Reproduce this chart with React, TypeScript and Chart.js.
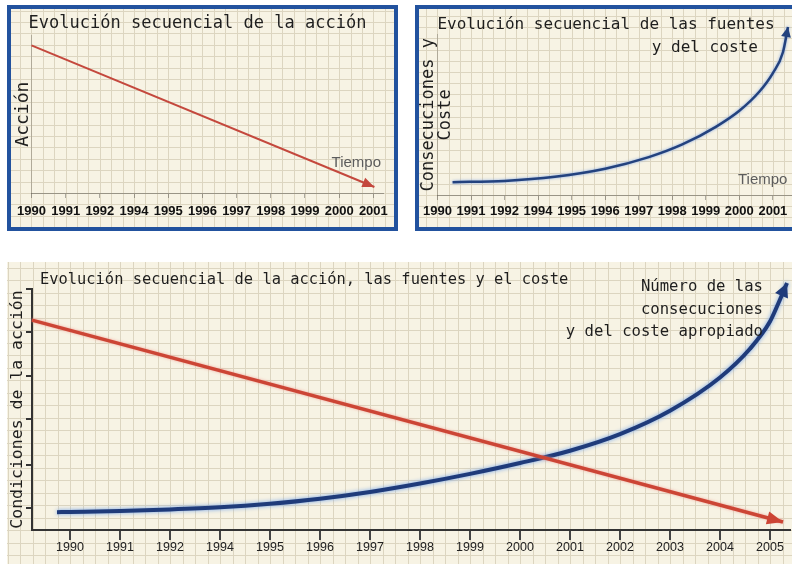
import React, { useEffect, useRef } from "react";
import { Chart, registerables } from "chart.js";

Chart.register(...registerables);

const MONO = '"DejaVu Sans Mono", monospace';
const SANS = '"Liberation Sans", Arial, sans-serif';

// ---------------- data ----------------
const yearLabelsTop = ["1990", "1991", "1992", "1994", "1995", "1996", "1997", "1998", "1999", "2000", "2001"];
const yearLabelsBottom = ["1990", "1991", "1992", "1994", "1995", "1996", "1997", "1998", "1999", "2000", "2001", "2002", "2003", "2004", "2005"];

// top-left panel: "acción" (x = position along the year axis, y = level 0..100)
const accionTopX = [0, 10.03];
const accionTopY = [93.7, 3.8];

// top-right panel: "fuentes y coste"
const fuentesTopX = [0.45, 2, 3.5, 5, 6.3, 7.3, 8.3, 9.0, 9.6, 10.0, 10.3, 10.45];
const fuentesTopY = [8.0, 8.8, 11.4, 16.4, 23.6, 31.5, 42.5, 52.5, 64.5, 76, 89, 104.7];

// bottom panel
const accionBottomX = [-0.76, 14.26];
const accionBottomY = [87.1, 3.3];
const fuentesBottomX = [-0.26, 0, 1, 2, 3, 4, 5, 6, 7, 8, 9, 10, 11, 12, 13, 13.6, 14, 14.17, 14.34];
const fuentesBottomY = [7.4, 7.5, 7.9, 8.5, 9.4, 10.9, 13.0, 15.8, 19.3, 23.3, 27.8, 32.9, 39.8, 49.5, 63.3, 75.2, 86.5, 94.2, 102.5];
const bottomYTicks = [9, 27, 46, 64, 82, 100];

const toPoints = (xs: number[], ys: number[]) => xs.map((x, i) => ({ x, y: ys[i] }));

// ---------------- plugins ----------------
const paperPlugin = {
  id: "paper",
  beforeDraw(chart: any, _a: any, opts: any) {
    const { ctx, width, height, chartArea, scales } = chart;
    const x0 = scales.x.getPixelForValue(0);
    const cell = (scales.x.getPixelForValue(1) - x0) / opts.div;
    const y0 = chartArea.bottom;
    ctx.save();
    ctx.fillStyle = opts.bg;
    ctx.fillRect(0, 0, width, height);
    ctx.strokeStyle = opts.line;
    ctx.lineWidth = 1;
    ctx.beginPath();
    for (let x = x0 - Math.ceil(x0 / cell) * cell; x <= width; x += cell) {
      const px = Math.round(x) + 0.5;
      ctx.moveTo(px, 0);
      ctx.lineTo(px, height);
    }
    for (let y = y0 - Math.ceil(y0 / cell) * cell; y <= height; y += cell) {
      const py = Math.round(y) + 0.5;
      ctx.moveTo(0, py);
      ctx.lineTo(width, py);
    }
    ctx.stroke();
    ctx.restore();
  },
};

const glowPlugin = {
  id: "glow",
  beforeDatasetDraw(chart: any, args: any) {
    const ds = chart.data.datasets[args.index];
    if (ds.glowColor) {
      chart.ctx.save();
      chart.ctx.shadowColor = ds.glowColor;
      chart.ctx.shadowBlur = ds.glowBlur || 4;
    }
  },
  afterDatasetDraw(chart: any, args: any) {
    const ds = chart.data.datasets[args.index];
    if (ds.glowColor) chart.ctx.restore();
  },
};

const arrowPlugin = {
  id: "arrowHeads",
  afterDatasetsDraw(chart: any) {
    const ctx = chart.ctx;
    chart.data.datasets.forEach((ds: any, i: number) => {
      if (!ds.arrowSize) return;
      const pts = chart.getDatasetMeta(i).data as any[];
      const n = pts.length;
      if (n < 2) return;
      const tip = pts[n - 1];
      let bx = tip.cp1x;
      let by = tip.cp1y;
      if (bx === undefined || by === undefined || (Math.abs(bx - tip.x) < 0.3 && Math.abs(by - tip.y) < 0.3)) {
        bx = pts[n - 2].x;
        by = pts[n - 2].y;
      }
      const ang = Math.atan2(tip.y - by, tip.x - bx);
      const [len, half] = ds.arrowSize;
      const c = Math.cos(ang);
      const s = Math.sin(ang);
      ctx.save();
      ctx.fillStyle = ds.borderColor;
      ctx.beginPath();
      ctx.moveTo(tip.x, tip.y);
      ctx.lineTo(tip.x - len * c + half * s, tip.y - len * s - half * c);
      ctx.lineTo(tip.x - len * c - half * s, tip.y - len * s + half * c);
      ctx.closePath();
      ctx.fill();
      ctx.restore();
    });
  },
};

const notesPlugin = {
  id: "notes",
  afterDraw(chart: any, _a: any, opts: any) {
    const { ctx, chartArea, scales } = chart;
    (opts.items || []).forEach((it: any) => {
      const x = it.ax !== undefined ? chartArea.left + it.ax : scales.x.getPixelForValue(it.x);
      const y = it.ay !== undefined ? chartArea.top + it.ay : scales.y.getPixelForValue(it.y);
      ctx.save();
      ctx.font = it.font;
      ctx.fillStyle = it.color;
      ctx.textAlign = it.align || "left";
      ctx.textBaseline = "middle";
      it.lines.forEach((l: string, k: number) => ctx.fillText(l, x, y + k * (it.lineHeight || 0)));
      ctx.restore();
    });
  },
};

const PLUGINS = [paperPlugin, glowPlugin, arrowPlugin, notesPlugin];
const PAPER = { bg: "#f7f3e4", line: "#dcd5c0" };

// ---------------- configs ----------------
function buildTopLeft(): any {
  return {
    type: "line",
    data: {
      datasets: [
        {
          label: "Acción",
          data: toPoints(accionTopX, accionTopY),
          borderColor: "#c4483d",
          borderWidth: 2,
          pointRadius: 0,
          clip: false,
          arrowSize: [12, 5],
        },
      ],
    },
    options: {
      responsive: false,
      animation: false,
      events: [],
      layout: { padding: { left: 0, right: 10, top: 0, bottom: 0 } },
      plugins: {
        legend: { display: false },
        tooltip: { enabled: false },
        title: {
          display: true,
          text: "Evolución secuencial de la acción",
          color: "#1e1e1e",
          font: { family: MONO, size: 17, weight: "normal", lineHeight: 1.2 },
          padding: { top: 4, bottom: 2 },
        },
        paper: { div: 3, ...PAPER },
        notes: {
          items: [{ x: 9.5, y: 19, lines: ["Tiempo"], font: `15px ${SANS}`, color: "#5c5c5c", align: "center" }],
        },
      },
      scales: {
        x: {
          type: "linear",
          min: 0,
          max: 10.3,
          afterBuildTicks: (s: any) => {
            s.ticks = yearLabelsTop.map((_, i) => ({ value: i }));
          },
          afterFit: (s: any) => {
            s.height = 34;
          },
          ticks: {
            callback: (v: any) => yearLabelsTop[Math.round(Number(v))] ?? "",
            color: "#111",
            font: { family: SANS, size: 13, weight: "bold", lineHeight: 1.2 },
            padding: 6,
            maxRotation: 0,
            autoSkip: false,
          },
          grid: { drawOnChartArea: false, drawTicks: true, tickLength: 5, color: "rgba(0,0,0,0.3)" },
          border: { color: "rgba(0,0,0,0.3)", width: 1 },
        },
        y: {
          type: "linear",
          min: 0,
          max: 100,
          afterFit: (s: any) => {
            s.width = 17;
          },
          ticks: { display: false },
          grid: { display: false },
          border: { color: "rgba(0,0,0,0.2)", width: 1 },
          title: {
            display: true,
            text: "Acción",
            color: "#1e1e1e",
            font: { family: MONO, size: 18, lineHeight: 1 },
            padding: { top: 0, bottom: 0 },
          },
        },
      },
    },
    plugins: PLUGINS,
  };
}

function buildTopRight(): any {
  return {
    type: "line",
    data: {
      datasets: [
        {
          label: "Consecuciones y coste",
          data: toPoints(fuentesTopX, fuentesTopY),
          borderColor: "#23427e",
          borderWidth: 2.5,
          pointRadius: 0,
          cubicInterpolationMode: "monotone",
          capBezierPoints: false,
          clip: false,
          glowColor: "rgba(120,160,230,0.9)",
          glowBlur: 3,
          arrowSize: [10, 5],
        },
      ],
    },
    options: {
      responsive: false,
      animation: false,
      events: [],
      layout: { padding: { left: 0, right: 13, top: 0, bottom: 0 } },
      plugins: {
        legend: { display: false },
        tooltip: { enabled: false },
        title: {
          display: true,
          fullSize: false,
          align: "start",
          text: "Evolución secuencial de las fuentes",
          color: "#1e1e1e",
          font: { family: MONO, size: 16, weight: "normal", lineHeight: 1.2 },
          padding: { top: 6.4, bottom: 0 },
        },
        paper: { div: 3, ...PAPER },
        notes: {
          items: [
            { x: 8.96, y: 9.4, lines: ["Tiempo"], font: `15px ${SANS}`, color: "#5c5c5c", align: "left" },
            { x: 9.55, y: 91.6, lines: ["y del coste"], font: `16px ${MONO}`, color: "#1e1e1e", align: "right" },
          ],
        },
      },
      scales: {
        x: {
          type: "linear",
          min: 0,
          max: 10.6,
          afterBuildTicks: (s: any) => {
            s.ticks = yearLabelsTop.map((_, i) => ({ value: i }));
          },
          afterFit: (s: any) => {
            s.height = 32;
          },
          ticks: {
            callback: (v: any) => yearLabelsTop[Math.round(Number(v))] ?? "",
            color: "#111",
            font: { family: SANS, size: 13, weight: "bold", lineHeight: 1.2 },
            padding: 4,
            maxRotation: 0,
            autoSkip: false,
          },
          grid: { drawOnChartArea: false, drawTicks: true, tickLength: 5, color: "rgba(0,0,0,0.3)" },
          border: { color: "rgba(0,0,0,0.3)", width: 1 },
        },
        y: {
          type: "linear",
          min: 0,
          max: 100,
          afterFit: (s: any) => {
            s.width = 18;
          },
          ticks: { display: false },
          grid: { display: false },
          border: { color: "rgba(0,0,0,0.2)", width: 1 },
          title: {
            display: true,
            text: ["Consecuciones y", "Coste"],
            color: "#1e1e1e",
            font: { family: MONO, size: 17, lineHeight: 1 },
            padding: { top: 0.5, bottom: 0 },
          },
        },
      },
    },
    plugins: PLUGINS,
  };
}

function buildBottom(): any {
  return {
    type: "line",
    data: {
      datasets: [
        {
          label: "Acción",
          data: toPoints(accionBottomX, accionBottomY),
          borderColor: "#cc4535",
          borderWidth: 3.5,
          pointRadius: 0,
          clip: false,
          glowColor: "rgba(240,150,140,0.8)",
          glowBlur: 3,
          arrowSize: [16, 6.5],
        },
        {
          label: "Consecuciones y coste",
          data: toPoints(fuentesBottomX, fuentesBottomY),
          borderColor: "#1f3b7a",
          borderWidth: 4,
          pointRadius: 0,
          cubicInterpolationMode: "monotone",
          capBezierPoints: false,
          clip: false,
          glowColor: "rgba(110,160,235,0.95)",
          glowBlur: 4,
          arrowSize: [14, 7],
        },
      ],
    },
    options: {
      responsive: false,
      animation: false,
      events: [],
      layout: { padding: { left: 0, right: 2, top: 27, bottom: 0 } },
      plugins: {
        legend: { display: false },
        tooltip: { enabled: false },
        title: { display: false },
        paper: { div: 4, ...PAPER },
        notes: {
          items: [
            {
              ax: 8,
              ay: -9,
              lines: ["Evolución secuencial de la acción, las fuentes y el coste"],
              font: `15.4px ${MONO}`,
              color: "#1e1e1e",
              align: "left",
            },
            {
              x: 13.86,
              y: 100.8,
              lines: ["Número de las", "consecuciones", "y del coste apropiado"],
              lineHeight: 22.5,
              font: `15.6px ${MONO}`,
              color: "#1e1e1e",
              align: "right",
            },
          ],
        },
      },
      scales: {
        x: {
          type: "linear",
          min: -0.76,
          max: 14.4,
          afterBuildTicks: (s: any) => {
            s.ticks = yearLabelsBottom.map((_, i) => ({ value: i }));
          },
          afterFit: (s: any) => {
            s.height = 34;
          },
          ticks: {
            callback: (v: any) => yearLabelsBottom[Math.round(Number(v))] ?? "",
            color: "#222",
            font: { family: SANS, size: 12.5, weight: "normal", lineHeight: 1.2 },
            padding: 0.5,
            maxRotation: 0,
            autoSkip: false,
          },
          grid: { drawOnChartArea: false, drawTicks: true, tickLength: 10, color: "#444", lineWidth: 2 },
          border: { color: "#333", width: 2 },
        },
        y: {
          type: "linear",
          min: 0,
          max: 100,
          afterBuildTicks: (s: any) => {
            s.ticks = bottomYTicks.map((v) => ({ value: v }));
          },
          afterFit: (s: any) => {
            s.width = 25;
          },
          ticks: { display: false },
          grid: { drawOnChartArea: false, drawTicks: true, tickLength: 6, color: "#333", lineWidth: 2 },
          border: { color: "#333", width: 2 },
          title: {
            display: true,
            text: "Condiciones de la acción",
            color: "#1e1e1e",
            font: { family: MONO, size: 16.5, lineHeight: 1 },
            padding: { top: 2.75, bottom: 0 },
          },
        },
      },
    },
    plugins: PLUGINS,
  };
}

// ---------------- components ----------------
function ChartCanvas({ build, width, height }: { build: () => any; width: number; height: number }) {
  const ref = useRef<HTMLCanvasElement>(null);
  useEffect(() => {
    const chart = new Chart(ref.current as HTMLCanvasElement, build());
    return () => chart.destroy();
  }, [build]);
  return <canvas ref={ref} width={width} height={height} style={{ display: "block", width, height }} />;
}

export default function App() {
  const panelBorder = "4px solid #22529e";
  return (
    <div
      style={{
        position: "fixed",
        left: 0,
        top: 0,
        width: 792,
        height: 564,
        overflow: "hidden",
        background: "#ffffff",
      }}
    >
      <div
        style={{
          position: "absolute",
          left: 7,
          top: 5,
          width: 391,
          height: 226,
          boxSizing: "border-box",
          border: panelBorder,
        }}
      >
        <ChartCanvas build={buildTopLeft} width={383} height={218} />
      </div>
      <div
        style={{
          position: "absolute",
          left: 415,
          top: 5,
          width: 395,
          height: 226,
          boxSizing: "border-box",
          border: panelBorder,
        }}
      >
        <ChartCanvas build={buildTopRight} width={387} height={218} />
      </div>
      <div style={{ position: "absolute", left: 7, top: 262, width: 785, height: 302 }}>
        <ChartCanvas build={buildBottom} width={785} height={302} />
      </div>
    </div>
  );
}
